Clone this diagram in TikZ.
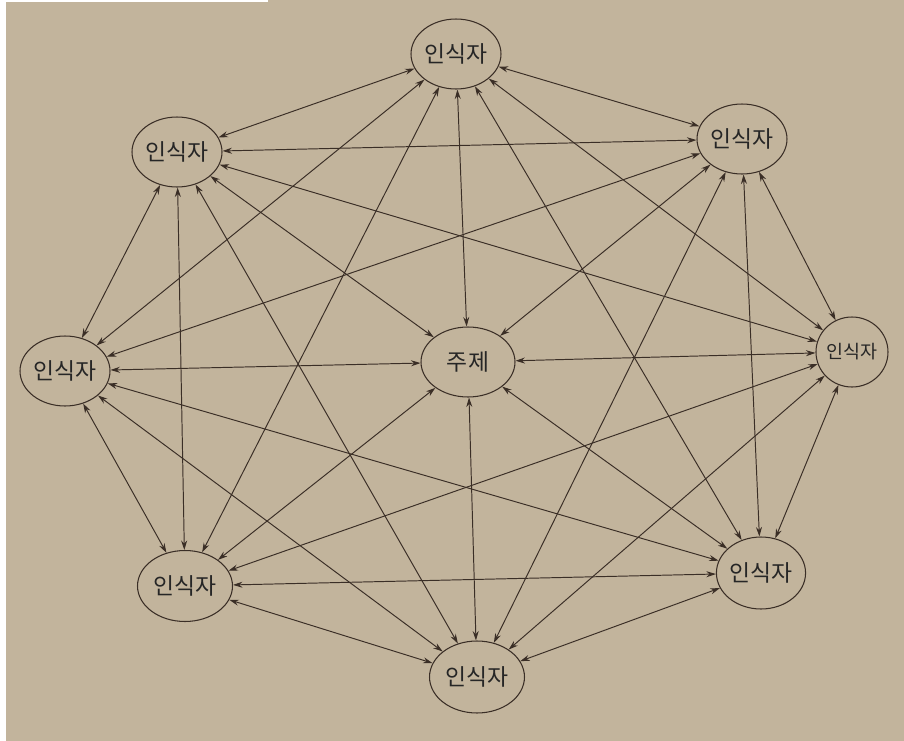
\documentclass[tikz,border=0pt]{standalone}
\usepackage{fontspec}
\newfontfamily\kor{Noto Sans CJK KR}
\usepackage{xcolor}
\usetikzlibrary{arrows.meta,shapes.geometric}

\definecolor{paper}{RGB}{194,180,156}
\definecolor{ink}{RGB}{58,46,38}

\begin{document}
\begin{tikzpicture}[
    x=0.02cm, y=-0.02cm,
    every node/.style={draw=ink, line width=0.6pt, ellipse, inner sep=0pt, minimum width=1.8cm, minimum height=1.4cm, align=center, font=\kor\fontsize{13}{15}\selectfont, text=black!85},
    arr/.style={{Stealth[length=1.9mm, width=1.2mm]}-{Stealth[length=1.9mm, width=1.2mm]}, ink, line width=0.55pt},
]
% Paper
\fill[paper] (0,0) rectangle (904,741);
\fill[white] (0,0) rectangle (268,2);
\fill[white] (0,0) rectangle (6,741);

% Nodes
\node (top) at (456,54) {인식자};
\node (ul) at (177,152) {인식자};
\node (ur) at (742,139) {인식자};
\node (lft) at (65,371) {인식자};
\node (topic) [minimum width=1.88cm] at (468,362) {주제};
\node (rgt) [minimum width=1.42cm, font=\kor\fontsize{10.5}{12}\selectfont] at (852,352) {인식자};
\node (ll) [minimum width=1.9cm, minimum height=1.42cm] at (185,586) {인식자};
\node (lr) [minimum width=1.7cm, minimum height=1.44cm] at (761,573) {인식자};
\node (bot) [minimum width=1.9cm, minimum height=1.44cm] at (477,677) {인식자};

% Links to the topic
\foreach \a in {top,ur,rgt,lr,bot,ll,lft,ul}
    \draw[arr] (\a) -- (topic);

% Links between perceivers (opposite pairs run through the topic)
\foreach \a/\b in {top/ur, top/rgt, top/lr, top/ll, top/lft, top/ul,
                   ur/rgt, ur/lr, ur/bot, ur/lft, ur/ul,
                   rgt/lr, rgt/bot, rgt/ll, rgt/ul,
                   lr/bot, lr/ll, lr/lft,
                   bot/ll, bot/lft, bot/ul,
                   ll/lft, ll/ul,
                   lft/ul}
    \draw[arr] (\a) -- (\b);
\end{tikzpicture}
\end{document}
